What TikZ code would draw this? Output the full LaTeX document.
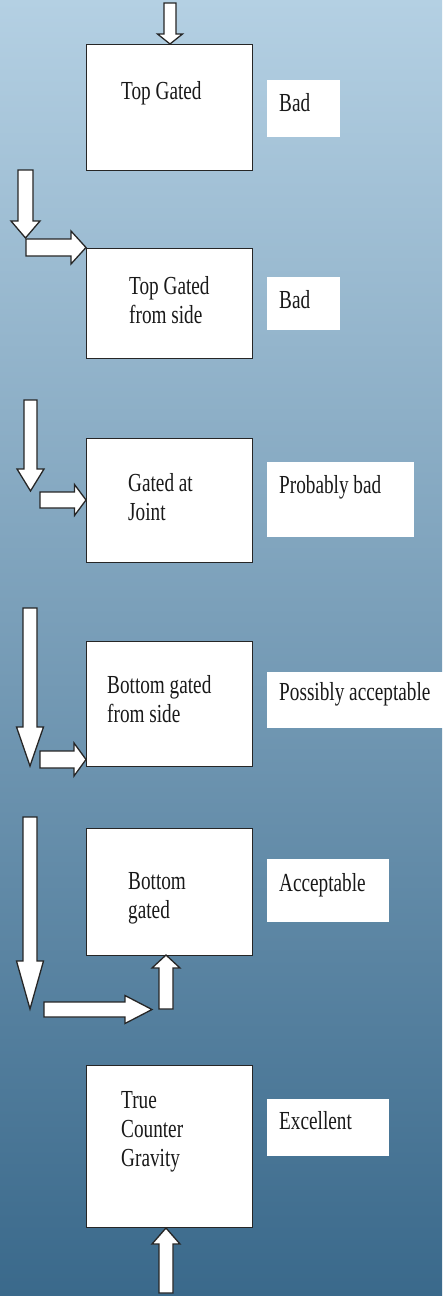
\documentclass[tikz,border=0pt]{standalone}
\usepackage{fontspec}
\setmainfont{Liberation Serif}[FakeStretch=0.74]
\definecolor{skytop}{RGB}{180,208,227}
\definecolor{skymid}{RGB}{124,164,190}
\definecolor{skybot}{RGB}{58,105,139}

\begin{document}
\begin{tikzpicture}[
  x=1pt, y=-1pt,
  stage/.style={rectangle, draw=black!85, line width=1.2pt, fill=white,
                anchor=north west, minimum width=166pt, inner sep=0pt},
  verdict/.style={rectangle, fill=white, anchor=north west, inner sep=0pt},
  % base anchor = baseline of the last line
  txt/.style={anchor=base west, align=left, inner sep=0pt,
              font=\fontsize{26}{29}\selectfont, text=black!90},
  arrline/.style={draw=black!85, line width=1.3pt, fill=white, line join=miter},
  % block arrow along +x: length, shaft half width, head half width, head length
  pics/blockarrow/.style n args={4}{code={
    \draw[arrline] (0,-#2) -- ({#1-#4},-#2) -- ({#1-#4},-#3) -- (#1,0)
      -- ({#1-#4},#3) -- ({#1-#4},#2) -- (0,#2) -- cycle;}}
]
% background
\shade[top color=skytop, middle color=skymid, bottom color=skybot]
  (0,0) rectangle (442,1296);
\useasboundingbox (0,0) rectangle (442,1296);

% stages
\node[stage, minimum height=126pt] (topgated) at (86,44) {};
\node[stage, minimum height=110pt] (topside)  at (86,248) {};
\node[stage, minimum height=124pt] (joint)    at (86,438) {};
\node[stage, minimum height=125pt] (botside)  at (86,641) {};
\node[stage, minimum height=127pt] (botgated) at (86,828) {};
\node[stage, minimum height=162pt] (counter)  at (86,1065) {};

\node[txt] (topgatedtxt) at (121,99)  {Top Gated};
\node[txt] (topsidetxt)  at (129,323) {Top Gated\\from side};
\node[txt] (jointtxt)    at (128,520) {Gated at\\Joint};
\node[txt] (botsidetxt)  at (107,722) {Bottom gated\\from side};
\node[txt] (botgatedtxt) at (128,918) {Bottom\\gated};
\node[txt] (countertxt)  at (121,1166) {True\\Counter\\Gravity};

% verdicts
\node[verdict, minimum width=73pt,  minimum height=57pt] (v1) at (267,80) {};
\node[verdict, minimum width=73pt,  minimum height=53pt] (v2) at (267,277) {};
\node[verdict, minimum width=147pt, minimum height=75pt] (v3) at (267,462) {};
\node[verdict, minimum width=176pt, minimum height=56pt] (v4) at (267,672) {};
\node[verdict, minimum width=122pt, minimum height=63pt] (v5) at (267,859) {};
\node[verdict, minimum width=122pt, minimum height=57pt] (v6) at (267,1099) {};

\node[txt] (v1txt) at (279,111)  {Bad};
\node[txt] (v2txt) at (279,308)  {Bad};
\node[txt] (v3txt) at (279,493)  {Probably bad};
\node[txt] (v4txt) at (279,700)  {Possibly acceptable};
\node[txt] (v5txt) at (279,891)  {Acceptable};
\node[txt] (v6txt) at (279,1129) {Excellent};

% arrows
\pic[rotate=-90] at (170,3)      {blockarrow={41}{6}{12.5}{10}};
\pic[rotate=-90] at (25.5,170)   {blockarrow={68}{7.5}{14.5}{17}};
\pic             at (26,247.5)   {blockarrow={60}{8.5}{16.5}{15}};
\pic[rotate=-90] at (30.5,400)   {blockarrow={91}{6.5}{13.5}{22}};
\pic             at (40,500)     {blockarrow={46}{8}{15.5}{11.5}};
\pic[rotate=-90] at (30,608)     {blockarrow={158}{7}{13.5}{39}};
\pic             at (40,759.5)   {blockarrow={46}{8.5}{16.5}{12}};
\pic[rotate=-90] at (30,817)     {blockarrow={192}{7}{13.5}{48}};
\pic             at (44,1009.5)  {blockarrow={108}{7.5}{14}{27}};
\pic[rotate=90]  at (166,1009)   {blockarrow={54}{7}{14}{13}};
\pic[rotate=90]  at (166,1293)   {blockarrow={65}{7}{14}{16}};
\end{tikzpicture}
\end{document}
